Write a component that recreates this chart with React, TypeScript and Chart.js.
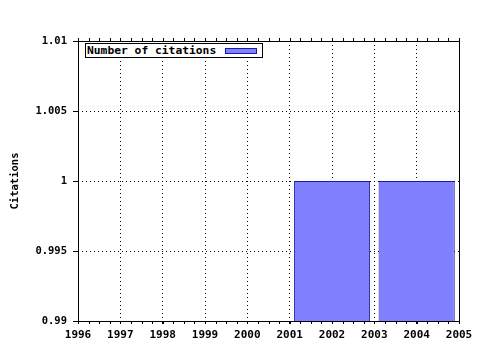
import React, { useEffect, useRef } from "react";
import { Chart, registerables } from "chart.js";

Chart.register(...registerables);

const years = [2002, 2004];
const citations = [1, 1];
const seriesLabel = "Number of citations";
const yTickValues = [0.99, 0.995, 1, 1.005, 1.01];
const yTickLabels = ["0.99", "0.995", "1", "1.005", "1.01"];
const xMin = 1996;
const xMax = 2005;
const yMin = 0.99;
const yMax = 1.01;
const minorStep = 0.25;

const FONT = "'DejaVu Sans Mono', monospace";
const BAR_FILL = "#8080ff";
const BAR_BORDER = "#1a1aa8";

const frame = {
  id: "frame",
  afterDraw(chart: any) {
    const { ctx, chartArea } = chart;
    const xs = chart.scales.x;
    ctx.save();
    ctx.strokeStyle = "#000";
    ctx.lineWidth = 1;
    ctx.setLineDash([]);
    ctx.strokeRect(
      Math.round(chartArea.left) + 0.5,
      Math.round(chartArea.top) + 0.5,
      Math.round(chartArea.right - chartArea.left),
      Math.round(chartArea.bottom - chartArea.top)
    );
    ctx.beginPath();
    for (let v = xMin; v <= xMax + 1e-9; v += minorStep) {
      const px = Math.round(xs.getPixelForValue(v)) + 0.5;
      ctx.moveTo(px, Math.round(chartArea.bottom));
      ctx.lineTo(px, Math.round(chartArea.bottom) + 3);
      ctx.moveTo(px, Math.round(chartArea.top));
      ctx.lineTo(px, Math.round(chartArea.top) - 3);
    }
    ctx.stroke();
    ctx.restore();
  },
};

export default function App() {
  const ref = useRef<HTMLCanvasElement | null>(null);

  useEffect(() => {
    document.body.style.margin = "0";
    const c = ref.current;
    if (!c) return;
    const chart = new Chart(c, {
      type: "bar",
      data: {
        datasets: [
          {
            label: seriesLabel,
            data: years.map((y, i) => ({ x: y, y: citations[i] })),
            backgroundColor: BAR_FILL,
            borderColor: BAR_BORDER,
            borderWidth: 1,
            barPercentage: 1.8,
            categoryPercentage: 1,
          },
        ],
      },
      options: {
        animation: false,
        responsive: false,
        maintainAspectRatio: false,
        layout: { padding: { top: 41, right: 21, left: 0, bottom: 0 } },
        plugins: {
          legend: { display: false },
          tooltip: { enabled: false },
        },
        scales: {
          x: {
            type: "linear",
            min: xMin,
            max: xMax,
            offset: false,
            afterFit: (s: any) => {
              s.height = 29;
            },
            ticks: {
              stepSize: 1,
              padding: 5,
              color: "#000",
              font: { family: FONT, size: 11, weight: "bold" },
              callback: (v: any) => String(v),
              maxRotation: 0,
              autoSkip: false,
            },
            grid: {
              offset: false,
              color: "#000",
              tickLength: 3,
              tickColor: "#000",
              tickBorderDash: [],
            },
            border: { display: false, dash: [1, 3] },
          },
          y: {
            min: yMin,
            max: yMax,
            afterFit: (s: any) => {
              s.width = 78;
            },
            afterBuildTicks: (s: any) => {
              s.ticks = yTickValues.map((v) => ({ value: v }));
            },
            title: {
              display: true,
              text: "Citations",
              color: "#000",
              font: { family: FONT, size: 10.5, weight: "bold" },
              padding: { top: 9, bottom: 0 },
            },
            ticks: {
              padding: 6,
              color: "#000",
              font: { family: FONT, size: 10.5, weight: "bold" },
              callback: (v: any) => {
                const i = yTickValues.findIndex((t) => Math.abs(t - v) < 1e-9);
                return i >= 0 ? yTickLabels[i] : "";
              },
            },
            grid: {
              color: "#000",
              tickLength: 5,
              tickColor: "#000",
              tickBorderDash: [],
            },
            border: { display: false, dash: [1, 3] },
          },
        },
      },
      plugins: [frame],
    } as any);
    return () => chart.destroy();
  }, []);

  return (
    <div style={{ position: "fixed", left: 0, top: 0, width: 480, height: 350, background: "#fff" }}>
      <canvas ref={ref} width={480} height={350} style={{ display: "block" }} />
      <div
        style={{
          position: "absolute",
          left: 85,
          top: 43,
          width: 176,
          height: 13,
          border: "1px solid #000",
          background: "#fff",
          boxSizing: "content-box",
        }}
      >
        <span
          style={{
            position: "absolute",
            left: 1,
            top: 0,
            lineHeight: "13px",
            fontFamily: FONT,
            fontWeight: "bold",
            fontSize: 11.3,
            color: "#000",
            whiteSpace: "nowrap",
          }}
        >
          {seriesLabel}
        </span>
        <div
          style={{
            position: "absolute",
            left: 139,
            top: 4,
            width: 30,
            height: 4,
            background: BAR_FILL,
            border: `1px solid ${BAR_BORDER}`,
          }}
        />
      </div>
    </div>
  );
}
